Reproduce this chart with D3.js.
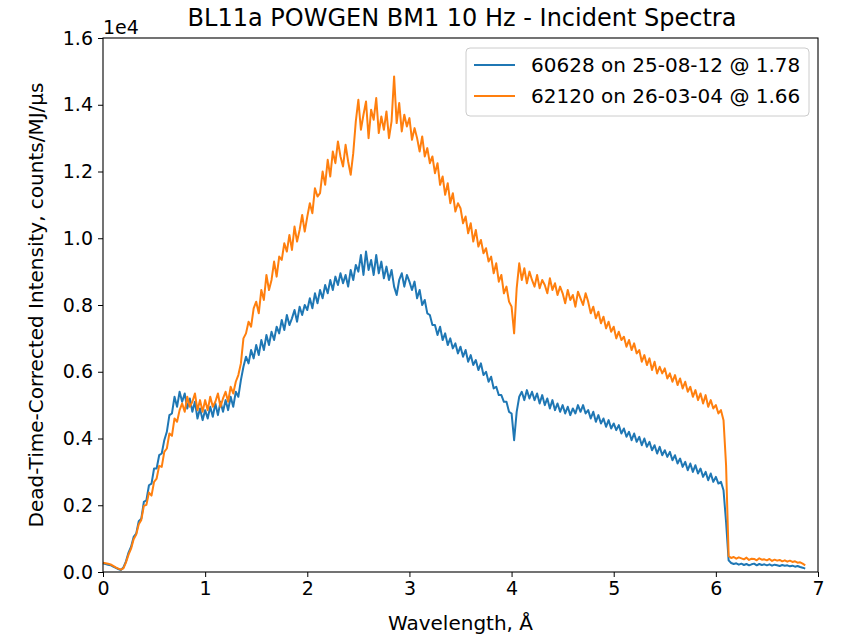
<!DOCTYPE html>
<html>
<head>
<meta charset="utf-8">
<script src="https://cdn.jsdelivr.net/npm/d3@7"></script>
<style>
body { margin: 0; background: #fff; }
text { font-family: "DejaVu Sans", sans-serif; fill: #000; }
</style>
</head>
<body>
<div id="container"></div>
<script>
let w = 842;
let h = 636;
let margin = {left: 103, right: 24, top: 38, bottom: 64};

// DATA - intensity every 0.025 A (0 .. 6.875)
let step = 0.025;
let run60628 = [
  260, 240, 220, 205, 160, 125, 90, 60, 140, 320,
  580, 760, 1050, 1150, 1520, 1600, 2100, 2150, 2600, 2650,
  3100, 3100, 3500, 3550, 3950, 4200, 4700, 4750, 5250, 4950,
  5400, 5100, 5350, 4900, 5200, 4800, 5100, 4600, 4900, 4550,
  4850, 4600, 4950, 4650, 5050, 4700, 5100, 4800, 5150, 4850,
  5250, 4950, 5400, 5250, 5750, 6150, 6450, 6250, 6650, 6400,
  6800, 6500, 6950, 6650, 7100, 6800, 7200, 6950, 7350, 7150,
  7550, 7250, 7700, 7400, 7600, 7850, 7500, 7950, 7700, 8000,
  7850, 8200, 7900, 8350, 8050, 8450, 8200, 8600, 8350, 8750,
  8450, 8850, 8600, 8950, 8650, 8900, 8550, 9050, 8750, 9200,
  9000, 9500, 8900, 9600, 9050, 9350, 8900, 9500, 8950, 9300,
  8800, 9150, 8750, 9050, 8550, 8300, 8750, 8950, 8550, 8900,
  8700, 8450, 8700, 8200, 8450, 8000, 8150, 7750, 7700, 7400,
  7400, 7100, 7350, 6950, 7150, 6800, 7000, 6700, 6850, 6550,
  6750, 6450, 6650, 6300, 6500, 6200, 6350, 6050, 6250, 5900,
  6000, 5700, 5850, 5500, 5550, 5300, 5300, 5100, 5100, 4800,
  4750, 3950, 4800, 5250, 5400, 5150, 5450, 5200, 5400, 5150,
  5350, 5050, 5300, 5000, 5200, 4900, 5150, 4850, 5050, 4800,
  5000, 4750, 4950, 4700, 4900, 4750, 5000, 4800, 5000, 4750,
  4850, 4600, 4800, 4500, 4700, 4450, 4600, 4350, 4550, 4300,
  4450, 4250, 4400, 4150, 4300, 4050, 4200, 3950, 4150, 3900,
  4050, 3800, 4000, 3750, 3900, 3650, 3800, 3550, 3750, 3500,
  3650, 3450, 3600, 3350, 3500, 3250, 3400, 3150, 3300, 3050,
  3250, 3000, 3200, 2950, 3100, 2850, 3000, 2750, 2950, 2700,
  2850, 2650, 2700, 2450, 1500, 350, 270, 240, 260, 220,
  250, 210, 240, 200, 230, 250, 200, 240, 210, 230,
  200, 230, 190, 220, 200, 180, 210, 190, 200, 170,
  190, 160, 180, 150, 130, 100
];
let run62120 = [
  280, 265, 250, 225, 185, 140, 100, 70, 110, 290,
  520, 700, 980, 1120, 1430, 1560, 1980, 2010, 2380, 2290,
  2700, 2800, 3180, 3150, 3600, 3700, 4150, 4080, 4600, 4500,
  4850, 5050, 4800, 5250, 4950, 5100, 5350, 4850, 5150, 4800,
  5150, 4850, 5250, 4950, 5100, 5350, 4950, 5200, 5400, 5100,
  5550, 5350, 5700, 5900, 6250, 7000, 7150, 7500, 7350, 7900,
  8100, 7750, 8450, 8150, 8900, 8450, 8750, 9300, 8850, 9450,
  9350, 9850, 9600, 10100, 9650, 10350, 9900, 10250, 10700, 10200,
  10650, 11050, 10750, 11500, 11250, 11350, 12000, 11600, 12350, 11850,
  12600, 12250, 12900, 12450, 12150, 12800, 12300, 11900, 12550, 13500,
  14150, 13250, 13700, 14100, 13000, 13850, 13550, 14200, 13150, 13650,
  13250, 13800, 13000, 13500, 14850, 13450, 14050, 13200, 13700, 13350,
  13600, 12950, 13300, 13000, 12600, 13050, 12450, 12700, 12250, 12450,
  11950, 12250, 11600, 11850, 11300, 11650, 11050, 11350, 10800, 11050,
  10900, 10450, 10650, 10150, 10450, 9900, 10250, 9750, 9950, 9550,
  9700, 9300, 9450, 8950, 9250, 8700, 8900, 8350, 8550, 8100,
  7950, 7150, 8500, 9250, 8750, 9100, 8650, 9000, 8750, 8550,
  8900, 8500, 8750, 8600, 8350, 8800, 8450, 8650, 8300, 8550,
  8350, 8050, 8450, 8150, 8300, 7950, 8400, 8200, 8000, 8350,
  8100, 7750, 7950, 7600, 7800, 7450, 7650, 7300, 7500, 7200,
  7350, 7000, 7200, 6950, 7050, 6750, 6950, 6650, 6850, 6550,
  6650, 6300, 6500, 6200, 6400, 6050, 6300, 5950, 6150, 5950,
  6100, 5800, 5950, 5700, 5900, 5600, 5800, 5500, 5700, 5400,
  5550, 5250, 5450, 5150, 5350, 5050, 5300, 4950, 5150, 4900,
  5000, 4750, 4850, 4550, 3200, 480, 420, 450, 400, 440,
  410, 380, 430, 360, 400, 390, 350, 410, 370, 380,
  350, 390, 330, 370, 340, 360, 320, 350, 310, 340,
  300, 320, 280, 290, 250, 200
];
let seriesNames = ["60628 on 25-08-12 @ 1.78", "62120 on 26-03-04 @ 1.66"];
let seriesColors = ["#1f77b4", "#ff7f0e"];
let xTicks = [0, 1, 2, 3, 4, 5, 6, 7];
let yTicks = [0, 2000, 4000, 6000, 8000, 10000, 12000, 14000, 16000];

// SVG
let viz = d3.select("#container").append("svg")
    .attr("width", w)
    .attr("height", h)
    .style("background-color", "white");

let xScale = d3.scaleLinear().domain([0, 7]).range([margin.left, w - margin.right]);
let yScale = d3.scaleLinear().domain([0, 16000]).range([h - margin.bottom, margin.top]);

// lines
let lineMaker = d3.line()
    .x(function(d, i){ return xScale(i * step); })
    .y(function(d){ return yScale(d); });

viz.selectAll(".spectrum").data([run60628, run62120]).enter()
  .append("path")
    .attr("class", "spectrum")
    .attr("d", lineMaker)
    .attr("fill", "none")
    .attr("stroke", function(d, i){ return seriesColors[i]; })
    .attr("stroke-width", 2)
    .attr("stroke-linejoin", "round");

// axes
let xAxis = d3.axisBottom(xScale).tickValues(xTicks).tickSize(5).tickPadding(5)
    .tickFormat(d3.format("d"));
let xG = viz.append("g").attr("transform", "translate(0," + (h - margin.bottom) + ")").call(xAxis);
let yAxis = d3.axisLeft(yScale).tickValues(yTicks).tickSize(5).tickPadding(5)
    .tickFormat(function(d){ return d3.format(".1f")(d / 1e4); });
let yG = viz.append("g").attr("transform", "translate(" + margin.left + ",0)").call(yAxis);
[xG, yG].forEach(function(g){
  g.select(".domain").remove();
  g.selectAll("text").style("font-size", "19px").style("font-family", "DejaVu Sans");
  g.selectAll("line").attr("stroke", "#000").attr("stroke-width", 1);
});

// frame
viz.append("rect")
    .attr("x", margin.left).attr("y", margin.top)
    .attr("width", w - margin.left - margin.right)
    .attr("height", h - margin.top - margin.bottom)
    .attr("fill", "none").attr("stroke", "#000").attr("stroke-width", 1.1);

// texts
viz.append("text").attr("x", 462).attr("y", 26)
    .attr("text-anchor", "middle").style("font-size", "24px")
    .text("BL11a POWGEN BM1 10 Hz - Incident Spectra");
viz.append("text").attr("x", margin.left).attr("y", 34)
    .style("font-size", "19px").text("1e4");
viz.append("text").attr("x", (margin.left + w - margin.right) / 2).attr("y", 630)
    .attr("text-anchor", "middle").style("font-size", "20px")
    .text("Wavelength, Å");
viz.append("text")
    .attr("transform", "translate(43," + ((margin.top + h - margin.bottom) / 2) + ") rotate(-90)")
    .attr("text-anchor", "middle").style("font-size", "20px")
    .text("Dead-Time-Corrected Intensity, counts/MJ/µs");

// legend
let legend = viz.append("g").attr("transform", "translate(466,48)");
legend.append("rect").attr("width", 343).attr("height", 68).attr("rx", 4)
    .attr("fill", "white").attr("fill-opacity", 0.8)
    .attr("stroke", "#ccc").attr("stroke-width", 1);
seriesNames.forEach(function(name, i){
  let yy = 17 + i * 31;
  legend.append("line").attr("x1", 8).attr("x2", 49).attr("y1", yy).attr("y2", yy)
      .attr("stroke", seriesColors[i]).attr("stroke-width", 2);
  legend.append("text").attr("x", 65).attr("y", yy + 7)
      .style("font-size", "20px").text(name);
});
</script>
</body>
</html>
